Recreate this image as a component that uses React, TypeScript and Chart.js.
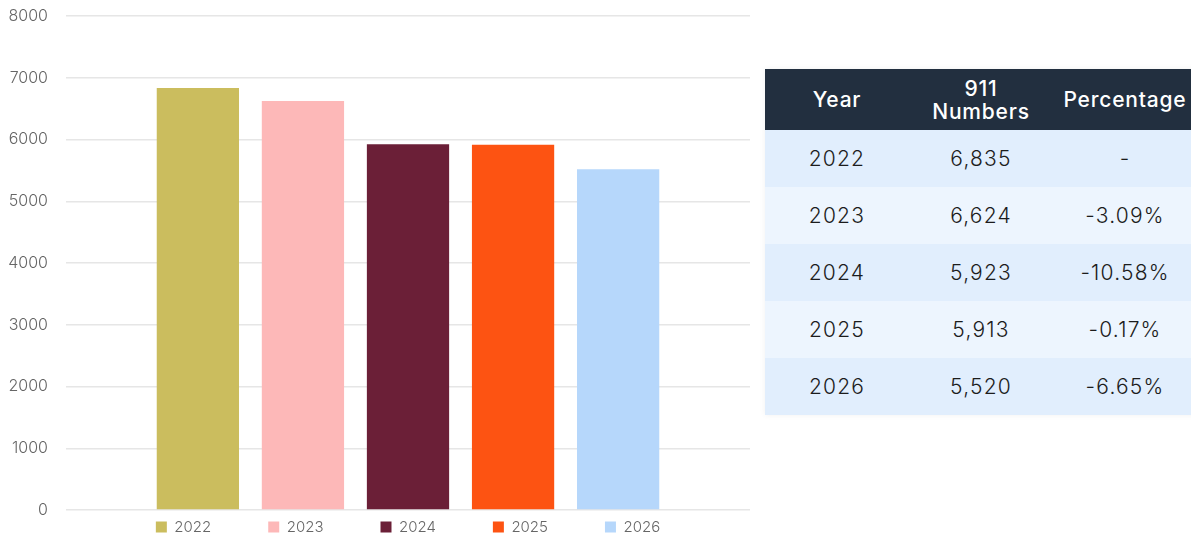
import React, { useEffect, useRef } from "react";
import { Chart, registerables } from "chart.js";

Chart.register(...registerables);

const years = ["2022", "2023", "2024", "2025", "2026"];
const calls = [6835, 6624, 5923, 5913, 5520];
const changes = ["-", "-3.09%", "-10.58%", "-0.17%", "-6.65%"];
const callLabels = ["6,835", "6,624", "5,923", "5,913", "5,520"];
const barColors = ["#cbbd5e", "#fdb8b8", "#6b1f37", "#fd5312", "#b6d7fb"];
const yTicks = [0, 1000, 2000, 3000, 4000, 5000, 6000, 7000, 8000];
const headers = ["Year", "911\nNumbers", "Percentage"];

const LEGEND_PAD = 57;

const legendShift = {
  id: "legendShift",
  afterInit(chart: any) {
    const lg = chart.legend;
    if (!lg || lg.__wrapped) return;
    lg.draw = function () {
      if (!lg.options.display) return;
      const ctx = chart.ctx;
      const ca = chart.chartArea;
      const dx = ca ? (ca.left + ca.right) / 2 - (lg.left + lg.right) / 2 : 0;
      ctx.save();
      ctx.translate(dx, -(LEGEND_PAD - 9.5));
      lg._draw();
      ctx.restore();
    };
    lg.__wrapped = true;
  },
};

function BarChart() {
  const ref = useRef<HTMLCanvasElement | null>(null);
  useEffect(() => {
    if (!ref.current) return;
    const font = { family: "Inter, 'Noto Sans', sans-serif", size: 16, weight: "300" as any };
    const chart = new Chart(ref.current, {
      type: "bar",
      data: {
        labels: [""],
        datasets: years.map((y, i) => ({
          label: y,
          data: [calls[i]],
          backgroundColor: barColors[i],
          borderWidth: 0,
          categoryPercentage: 0.768,
          barPercentage: 0.783,
        })),
      },
      options: {
        responsive: false,
        animation: false,
        layout: { padding: { top: 16, right: 10, bottom: 0, left: 0 } },
        scales: {
          x: { display: false },
          y: {
            min: 0,
            max: 8000,
            afterFit(scale: any) {
              scale.width = 66;
              scale.paddingTop = 8;
              scale.paddingBottom = 8;
            },
            afterBuildTicks(scale: any) {
              scale.ticks = yTicks.map((v) => ({ value: v }));
            },
            ticks: {
              padding: 18,
              color: "#666666",
              font,
              callback: (v: any) => String(v),
            },
            grid: { color: "#e6e6e6", drawTicks: false, lineWidth: 1.5 },
            border: { display: false },
          },
        },
        plugins: {
          legend: {
            position: "bottom",
            maxHeight: 26,
            labels: {
              boxWidth: 11,
              boxHeight: 11,
              padding: LEGEND_PAD,
              color: "#666666",
              font: { ...font, size: 15 },
            },
          },
          tooltip: { enabled: false },
        },
      },
      plugins: [legendShift],
    });
    return () => chart.destroy();
  }, []);
  return <canvas ref={ref} width={760} height={536} style={{ width: 760, height: 536, display: "block" }} />;
}

export default function App() {
  const cellFont = "Inter, 'Noto Sans', sans-serif";
  return (
    <div
      style={{
        position: "absolute",
        left: 0,
        top: 0,
        width: 1191,
        height: 536,
        overflow: "hidden",
        background: "#ffffff",
      }}
    >
      <div style={{ position: "absolute", left: 0, top: 0 }}>
        <BarChart />
      </div>
      <div
        style={{
          position: "absolute",
          left: 765,
          top: 69,
          width: 432,
          boxShadow: "0 0 6px rgba(0,0,0,0.06)",
          fontFamily: cellFont,
        }}
      >
        <div style={{ display: "flex", height: 61, background: "#222f3f", color: "#ffffff" }}>
          {headers.map((h, i) => (
            <div
              key={i}
              style={{
                width: 144,
                display: "flex",
                alignItems: "center",
                justifyContent: "center",
                textAlign: "center",
                whiteSpace: "pre-line",
                fontSize: 21,
                fontWeight: 500,
                letterSpacing: 0.8,
                lineHeight: "23px",
              }}
            >
              {h}
            </div>
          ))}
        </div>
        {years.map((y, i) => (
          <div
            key={y}
            style={{
              display: "flex",
              height: 57,
              background: i % 2 === 0 ? "#e1eefd" : "#edf5fe",
              color: "#1c1c1c",
              fontSize: 21,
              fontWeight: 300,
              letterSpacing: 1.2,
            }}
          >
            {[y, callLabels[i], changes[i]].map((t, j) => (
              <div
                key={j}
                style={{ width: 144, display: "flex", alignItems: "center", justifyContent: "center" }}
              >
                {t}
              </div>
            ))}
          </div>
        ))}
      </div>
    </div>
  );
}
